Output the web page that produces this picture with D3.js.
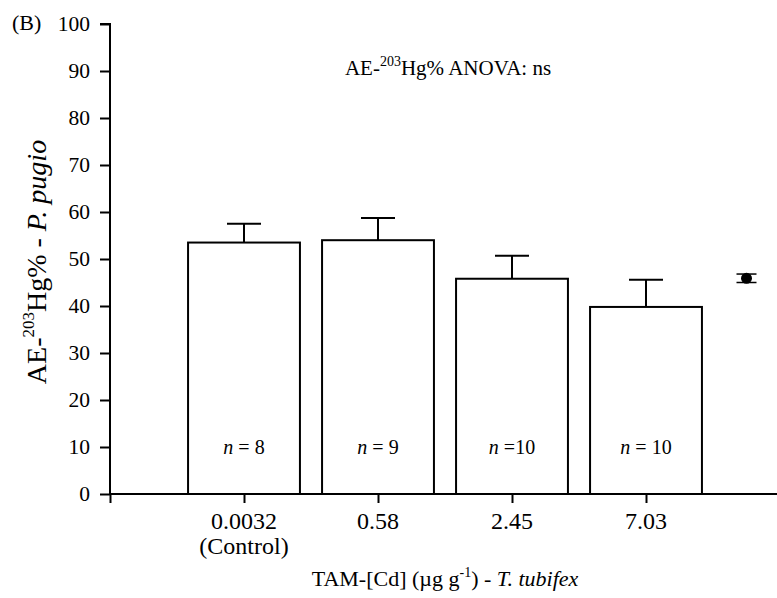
<!DOCTYPE html>
<html>
<head>
<meta charset="utf-8">
<script src="https://cdn.jsdelivr.net/npm/d3@7"></script>
<style>
  html, body { margin: 0; padding: 0; background: #fff; }
  svg { display: block; font-family: "Liberation Serif", "Times New Roman", serif; }
</style>
</head>
<body>
<svg id="chart" width="777" height="598"></svg>
<script>
// Treatment groups (TAM-[Cd] in T. tubifex)
const categories = ["0.0032", "0.58", "2.45", "7.03"];
const categorySub = ["(Control)", "", "", ""];
// Mean AE-203Hg% and upper SE for each group
const means = [53.5, 54.0, 45.8, 39.8];
const errors = [4.0, 4.7, 4.9, 5.8];
const nLabels = ["= 8", "= 9", "=10", "= 10"];
// Reference point plotted to the right of the bars
const refMean = [45.9];
const refError = [0.9];
const refPos = [4.75];
// Axis ticks
const yTicks = [0, 10, 20, 30, 40, 50, 60, 70, 80, 90, 100];
const xTickPos = [0, 1, 2, 3, 4, 5];

const svg = d3.select("#chart");
const x = d3.scaleLinear().domain([0, 5]).range([110, 780]);
const y = d3.scaleLinear().domain([0, 100]).range([494, 24]);
const barW = x(0.835) - x(0);

// Bars
svg.append("g").selectAll("rect").data(means).join("rect")
  .attr("x", (d, i) => x(i + 1) - barW / 2)
  .attr("y", d => y(d))
  .attr("width", barW)
  .attr("height", d => y(0) - y(d))
  .attr("fill", "#fff").attr("stroke", "#000").attr("stroke-width", 2);

// Upper error bars
const capW = 34;
const eb = svg.append("g").attr("stroke", "#000").attr("stroke-width", 2);
means.forEach((m, i) => {
  const cx = x(i + 1);
  eb.append("line").attr("x1", cx).attr("x2", cx).attr("y1", y(m)).attr("y2", y(m + errors[i]));
  eb.append("line").attr("x1", cx - capW / 2).attr("x2", cx + capW / 2)
    .attr("y1", y(m + errors[i])).attr("y2", y(m + errors[i]));
});

// Reference point with its error bar
refMean.forEach((m, i) => {
  const cx = x(refPos[i]);
  const g = svg.append("g");
  g.append("line").attr("x1", cx).attr("x2", cx)
    .attr("y1", y(m - refError[i])).attr("y2", y(m + refError[i]))
    .attr("stroke", "#000").attr("stroke-width", 1.5);
  [m - refError[i], m + refError[i]].forEach(v => {
    g.append("line").attr("x1", cx - 10).attr("x2", cx + 10)
      .attr("y1", y(v)).attr("y2", y(v)).attr("stroke", "#000").attr("stroke-width", 1.5);
  });
  g.append("circle").attr("cx", cx).attr("cy", y(m)).attr("r", 5.5).attr("fill", "#000");
});

// n labels inside bars
const nl = svg.append("g").attr("font-size", 20).attr("text-anchor", "middle");
nLabels.forEach((t, i) => {
  const txt = nl.append("text").attr("x", x(i + 1)).attr("y", y(10) + 7);
  txt.append("tspan").attr("font-style", "italic").text("n");
  txt.append("tspan").text(" " + t);
});

// Y axis
const yAxis = svg.append("g").attr("transform", `translate(${x(0)},0)`)
  .call(d3.axisLeft(y).tickValues(yTicks).tickSize(10).tickPadding(10));
// X axis
const xAxis = svg.append("g").attr("transform", `translate(0,${y(0)})`)
  .call(d3.axisBottom(x).tickValues(xTickPos).tickSize(9).tickFormat(""));
[yAxis, xAxis].forEach(a => {
  a.select(".domain").attr("stroke-width", 2).attr("stroke", "#000");
  a.selectAll(".tick line").attr("stroke-width", 2).attr("stroke", "#000");
  a.selectAll("text").attr("font-family", "Liberation Serif").attr("font-size", 21.5).attr("fill", "#000");
});
yAxis.select(".domain").attr("d", `M-10,${y(100)}H0V${y(0)}`);
xAxis.select(".domain").attr("d", `M${x(0)},0H777`);

// X category labels
const xl = svg.append("g").attr("font-size", 24).attr("text-anchor", "middle");
categories.forEach((c, i) => {
  xl.append("text").attr("x", x(i + 1)).attr("y", 529).text(c);
  if (categorySub[i]) xl.append("text").attr("x", x(i + 1)).attr("y", 554).text(categorySub[i]);
});

// X axis title
const xt = svg.append("text").attr("x", 445).attr("y", 586).attr("text-anchor", "middle").attr("font-size", 22);
xt.append("tspan").text("TAM-[Cd] (\u00b5g g");
xt.append("tspan").attr("font-size", 14).attr("dy", -9).text("-1");
xt.append("tspan").attr("dy", 9).text(") - ");
xt.append("tspan").attr("font-style", "italic").text("T. tubifex");

// Y axis title
const yt = svg.append("text").attr("transform", "translate(46,262) rotate(-90)")
  .attr("text-anchor", "middle").attr("font-size", 28);
yt.append("tspan").text("AE-");
yt.append("tspan").attr("font-size", 17).attr("dy", -12).text("203");
yt.append("tspan").attr("dy", 12).text("Hg% - ");
yt.append("tspan").attr("font-style", "italic").text("P. pugio");

// Panel letter
svg.append("text").attr("x", 12).attr("y", 30).attr("font-size", 22).text("(B)");

// ANOVA annotation
const an = svg.append("text").attr("x", 448).attr("y", 75).attr("text-anchor", "middle").attr("font-size", 21);
an.append("tspan").text("AE-");
an.append("tspan").attr("font-size", 14).attr("dy", -9).text("203");
an.append("tspan").attr("dy", 9).text("Hg% ANOVA: ns");
</script>
</body>
</html>
